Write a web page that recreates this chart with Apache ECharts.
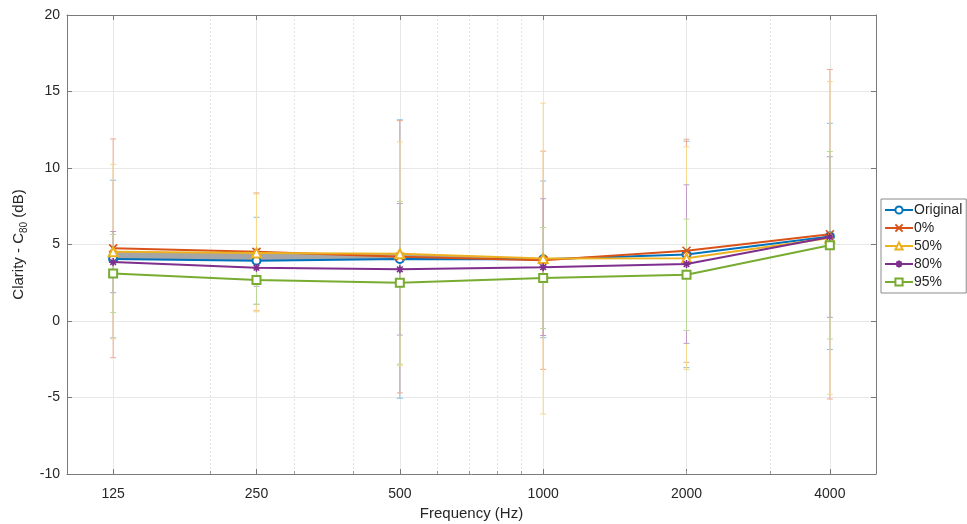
<!DOCTYPE html>
<html>
<head>
<meta charset="utf-8">
<script src="https://cdn.jsdelivr.net/npm/echarts@6/dist/echarts.min.js"></script>
<style>
  html, body { margin: 0; padding: 0; background: #fff; }
  #chart { width: 967px; height: 524px; }
</style>
</head>
<body>
<div id="chart"></div>
<script>
// frequency bands (Hz)
const freqs = [125, 250, 500, 1000, 2000, 4000]
const minorFreqs = [200, 300, 400, 600, 700, 800, 900, 2000, 3000]
const seriesNames = ['Original', '0%', '50%', '80%', '95%']
const seriesColors = ['#0072BD', '#D95319', '#EDB120', '#7E2F8E', '#77AC30']
// error bars are drawn as light tints, later series on top
const errColors = ['#86bce0', '#eeab8e', '#f6d98f', '#c19ac8', '#bcd899']

// mean C80 per band
const meanOriginal = [4.05, 3.94, 4.05, 4.03, 4.35, 5.53]
const mean0 = [4.75, 4.52, 4.2, 3.97, 4.59, 5.67]
const mean50 = [4.53, 4.45, 4.4, 4.08, 4.1, 5.43]
const mean80 = [3.85, 3.48, 3.38, 3.52, 3.72, 5.49]
const mean95 = [3.1, 2.68, 2.5, 2.81, 3.02, 4.95]

// half-length of error bars
const errOriginal = [5.15, 2.84, 9.1, 5.12, 7.4, 7.39]
const err0 = [7.15, 3.85, 8.9, 7.13, 7.29, 10.77]
const err50 = [5.7, 3.85, 7.3, 10.16, 7.28, 10.22]
const err80 = [2.0, 1.21, 4.3, 4.47, 5.18, 5.25]
const err95 = [2.55, 1.61, 5.32, 3.3, 3.64, 6.13]

// shaded band between 50% and Original (first four bands)
const bandCount = 4

const yTicks = [-10, -5, 0, 5, 10, 15, 20]

const means = [meanOriginal, mean0, mean50, mean80, mean95]
const errs = [errOriginal, err0, err50, err80, err95]

const lg = (f) => Math.log2(f)
const xMin = lg(100)
const xMax = lg(5000)

const symbols = [
  'emptyCircle',
  'path://M0,0L10,10M10,0L0,10',
  'emptyTriangle',
  'path://M5,0L5,10M0,5L10,5M1.5,1.5L8.5,8.5M8.5,1.5L1.5,8.5',
  'emptyRect',
]
const symbolSizes = [8, 8, 9, 8, 8]

const font = 'Liberation Sans, Arial, Helvetica, sans-serif'

const chart = echarts.init(document.getElementById('chart'))

const errorSeries = means.map((m, s) => ({
  name: seriesNames[s] + ' err',
  type: 'custom',
  z: 1,
  silent: true,
  data: freqs.map((f, i) => [lg(f), m[i] - errs[s][i], m[i] + errs[s][i]]),
  renderItem: (params, api) => {
    const lo = api.coord([api.value(0), api.value(1)])
    const hi = api.coord([api.value(0), api.value(2)])
    const w = 3
    const style = {stroke: errColors[s], lineWidth: 1, fill: null}
    return {
      type: 'group',
      children: [
        {type: 'line', shape: {x1: lo[0], y1: lo[1], x2: hi[0], y2: hi[1]}, style},
        {type: 'line', shape: {x1: lo[0] - w, y1: lo[1], x2: lo[0] + w, y2: lo[1]}, style},
        {type: 'line', shape: {x1: hi[0] - w, y1: hi[1], x2: hi[0] + w, y2: hi[1]}, style},
      ],
    }
  },
}))

const bandSeries = {
  name: 'band',
  type: 'custom',
  z: 2,
  silent: true,
  data: [[lg(freqs[0]), 0]],
  renderItem: (params, api) => {
    const pts = []
    for (let i = 0; i < bandCount; i++) pts.push(api.coord([lg(freqs[i]), mean50[i]]))
    for (let i = bandCount - 1; i >= 0; i--) pts.push(api.coord([lg(freqs[i]), meanOriginal[i]]))
    return {
      type: 'polygon',
      shape: {points: pts},
      style: {fill: '#a6a6a6', stroke: null},
    }
  },
}

const lineSeries = means.map((m, s) => ({
  name: seriesNames[s],
  type: 'line',
  z: 3 + s,
  data: freqs.map((f, i) => [lg(f), m[i]]),
  symbol: symbols[s],
  symbolSize: symbolSizes[s],
  showAllSymbol: true,
  lineStyle: {color: seriesColors[s], width: 2},
  itemStyle: {color: seriesColors[s], borderColor: seriesColors[s], borderWidth: 1.6},
  emphasis: {disabled: true},
}))

const tickColor = '#7a7a7a'

const option = {
  animation: false,
  backgroundColor: '#fff',
  textStyle: {fontFamily: font},
  grid: {left: 67, right: 91, top: 15, bottom: 50, containLabel: false, outerBoundsMode: 'none'},
  legend: {
    data: seriesNames,
    orient: 'vertical',
    left: 881,
    top: 199,
    itemWidth: 28,
    itemHeight: 9,
    itemGap: 4,
    padding: [4, 4, 4, 3],
    borderColor: '#8a8a8a',
    borderWidth: 1,
    textStyle: {fontSize: 14, color: '#262626', fontFamily: font, padding: [0, 0, 0, -4]},
  },
  xAxis: [
    {
      type: 'value',
      min: xMin,
      max: xMax,
      position: 'bottom',
      name: 'Frequency (Hz)',
      nameLocation: 'middle',
      nameGap: 31,
      nameTextStyle: {fontSize: 15, color: '#262626', fontFamily: font},
      axisLine: {onZero: false, lineStyle: {color: tickColor}},
      axisTick: {inside: true, length: 5, lineStyle: {color: tickColor}, customValues: freqs.map(lg)},
      axisLabel: {
        customValues: freqs.map(lg),
        formatter: (v) => String(Math.round(Math.pow(2, v))),
        fontSize: 14,
        color: '#262626',
        margin: 13,
        fontFamily: font,
      },
      splitLine: {show: true, lineStyle: {color: '#e8e8e8', width: 1}},
    },
    {
      type: 'value',
      min: xMin,
      max: xMax,
      position: 'bottom',
      axisLine: {show: false, onZero: false},
      axisTick: {inside: true, length: 3, lineStyle: {color: '#9a9a9a'}, customValues: minorFreqs.map(lg)},
      axisLabel: {show: false, customValues: minorFreqs.map(lg)},
      splitLine: {show: true, lineStyle: {color: '#e4e4e4', width: 1, type: [2, 2]}},
    },
    {
      type: 'value',
      min: xMin,
      max: xMax,
      position: 'top',
      axisLine: {onZero: false, lineStyle: {color: tickColor}},
      axisTick: {inside: true, length: 5, lineStyle: {color: tickColor}, customValues: freqs.map(lg)},
      axisLabel: {show: false, customValues: freqs.map(lg)},
      splitLine: {show: false},
    },
  ],
  yAxis: [
    {
      type: 'value',
      min: yTicks[0],
      max: yTicks[yTicks.length - 1],
      interval: 5,
      name: 'Clarity - C{sub|80} (dB)',
      nameLocation: 'middle',
      nameGap: 38,
      nameTextStyle: {
        fontSize: 15,
        color: '#262626',
        fontFamily: font,
        lineHeight: 20,
        rich: {sub: {fontSize: 10, lineHeight: 10, verticalAlign: 'bottom', color: '#262626', fontFamily: font}},
      },
      axisLine: {show: true, onZero: false, lineStyle: {color: tickColor}},
      axisTick: {show: true, inside: true, length: 5, lineStyle: {color: tickColor}},
      axisLabel: {fontSize: 14, color: '#262626', margin: 7, fontFamily: font},
      splitLine: {show: true, lineStyle: {color: '#e8e8e8', width: 1}},
    },
    {
      type: 'value',
      min: yTicks[0],
      max: yTicks[yTicks.length - 1],
      interval: 5,
      position: 'right',
      axisLine: {show: true, onZero: false, lineStyle: {color: tickColor}},
      axisTick: {show: true, inside: true, length: 5, lineStyle: {color: tickColor}},
      axisLabel: {show: false},
      splitLine: {show: false},
    },
  ],
  series: [...errorSeries, bandSeries, ...lineSeries],
}

chart.setOption(option)
</script>
</body>
</html>
